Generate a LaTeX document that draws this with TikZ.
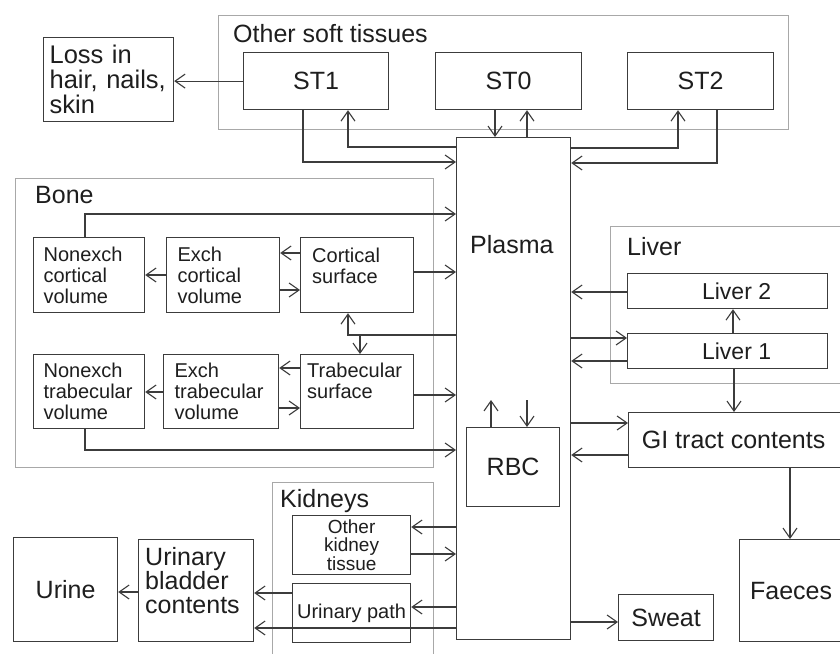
\documentclass[tikz,border=0pt]{standalone}
\usepackage{fontspec}
\setmainfont{Liberation Sans}
\usetikzlibrary{arrows.meta}
\definecolor{linec}{HTML}{3C3C3C}
\definecolor{grpc}{HTML}{A8A8A8}
\definecolor{txtc}{HTML}{1E1E1E}
\begin{document}
\begin{tikzpicture}[x=1pt,y=-1pt,
  arr/.style={draw=linec, line width=1.2pt, -{Straight Barb[length=10pt,width=14pt,line width=1.1pt]}},
  box/.style={draw=linec, line width=1.2pt, inner sep=0pt, anchor=north west, align=center, text=txtc},
  grp/.style={draw=grpc, line width=1.2pt, inner sep=0pt, anchor=north west},
  lbl/.style={inner sep=0pt, text=txtc},
  big/.style={font=\fontsize{25}{25}\selectfont},
  mid/.style={font=\fontsize{23}{23}\selectfont},
  small/.style={font=\fontsize{20}{21}\selectfont},
]
\useasboundingbox (0,0) rectangle (840,653);
\clip (0,0) rectangle (840,653);
\fill[white] (0,0) rectangle (840,653);

% group frames
\node[grp, minimum width=570, minimum height=114] (gst) at (218,15) {};
\node[grp, minimum width=418, minimum height=289] (gbone) at (15,178) {};
\node[grp, minimum width=240, minimum height=157] (gliver) at (610,226) {};
\node[grp, minimum width=161, minimum height=180] (gkid) at (272,482) {};
\node[lbl, big, anchor=base west] (tst) at (233,42) {Other soft tissues};
\node[lbl, big, anchor=base west] (tbone) at (35,203) {Bone};
\node[lbl, big, anchor=base west] (tliver) at (627,255) {Liver};
\node[lbl, big, anchor=base west] (tkid) at (280,507) {Kidneys};

% boxes
\node[box, font=\fontsize{25.5}{25}\selectfont, minimum width=130, minimum height=84, text width=118, align=left] (loss) at (43,37) {Loss in\\hair, nails,\\skin};
\node[box, big, minimum width=145, minimum height=57] (st1) at (243,52) {ST1};
\node[box, big, minimum width=146, minimum height=57] (st0) at (435,52) {ST0};
\node[box, big, minimum width=146, minimum height=57] (st2) at (627,52) {ST2};
\node[box, minimum width=114, minimum height=502] (plasma) at (456,137) {};
\node[lbl, big, anchor=base west] (tplasma) at (470,253) {Plasma};

\node[box, small, minimum width=111, minimum height=75, text width=91, align=left] (ncv) at (33,237) {Nonexch\\cortical\\volume};
\node[box, small, minimum width=113, minimum height=75, text width=91, align=left] (ecv) at (166,237) {Exch\\cortical\\volume};
\node[box, minimum width=113, minimum height=75] (cs) at (300,237) {};
\node[lbl, small, anchor=north west, align=left] (tcs) at (312,248) {Cortical\\surface};
\node[box, small, minimum width=111, minimum height=74, text width=91, align=left] (ntv) at (33,354) {Nonexch\\trabecular\\volume};
\node[box, small, minimum width=115, minimum height=74, text width=93, align=left] (etv) at (163,354) {Exch\\trabecular\\volume};
\node[box, minimum width=113, minimum height=74] (ts) at (300,354) {};
\node[lbl, small, anchor=north west, align=left] (tts) at (307,363) {Trabecular\\surface};

\node[box, mid, minimum width=200, minimum height=35] (liv2) at (627,273) {\hspace*{18pt}Liver 2};
\node[box, mid, minimum width=200, minimum height=35] (liv1) at (627,333) {\hspace*{18pt}Liver 1};
\node[box, big, minimum width=222, minimum height=55] (gi) at (628,412) {GI tract contents\hspace*{12pt}};
\node[box, big, minimum width=93, minimum height=79] (rbc) at (466,427) {RBC};
\node[box, big, minimum width=111, minimum height=102] (faeces) at (739,539) {Faeces\hspace*{8pt}};
\node[box, big, minimum width=95, minimum height=46] (sweat) at (618,594) {Sweat};
\node[box, font=\fontsize{19}{18.5}\selectfont, minimum width=118, minimum height=59] (okt) at (292,515) {Other\\kidney\\tissue};
\node[box, small, minimum width=118, minimum height=59] (up) at (292,583) {Urinary path};
\node[box, minimum width=115, minimum height=102] (ubc) at (138,539) {};
\node[lbl, font=\fontsize{25}{24}\selectfont, anchor=north west, align=left] (tubc) at (145,547) {Urinary\\bladder\\contents};
\node[box, big, minimum width=104, minimum height=104] (urine) at (13,537) {Urine};

% connectors
\draw[arr] (st1.west) -- (loss.east |- st1.west);
\draw[arr] (st1.south -| 303,0) |- (plasma.west |- 0,162);
\draw[arr] (plasma.west |- 0,147) -| (st1.south -| 348,0);
\draw[arr] (st0.south -| 495,0) -- (plasma.north -| 495,0);
\draw[arr] (plasma.north -| 527,0) -- (st0.south -| 527,0);
\draw[arr] (plasma.east |- 0,148) -| (st2.south -| 678,0);
\draw[arr] (st2.south -| 717,0) |- (plasma.east |- 0,163);
\draw[arr] (ncv.north -| 85,0) |- (plasma.west |- 0,214);
\draw[arr] (ecv.west |- 0,275) -- (ncv.east |- 0,275);
\draw[arr] (cs.west |- 0,253) -- (ecv.east |- 0,253);
\draw[arr] (ecv.east |- 0,290) -- (cs.west |- 0,290);
\draw[arr] (cs.east |- 0,272) -- (plasma.west |- 0,272);
\draw[arr] (plasma.west |- 0,335) -| (cs.south -| 348,0);
\draw[arr] (plasma.west |- 0,335) -| (ts.north -| 360,0);
\draw[arr] (ts.west |- 0,368) -- (etv.east |- 0,368);
\draw[arr] (etv.east |- 0,408) -- (ts.west |- 0,408);
\draw[arr] (etv.west |- 0,392) -- (ntv.east |- 0,392);
\draw[arr] (ts.east |- 0,395) -- (plasma.west |- 0,395);
\draw[arr] (ntv.south -| 85,0) |- (plasma.west |- 0,450);
\draw[arr] (liv2.west |- 0,292) -- (plasma.east |- 0,292);
\draw[arr] (plasma.east |- 0,338) -- (liv1.west |- 0,338);
\draw[arr] (liv1.west |- 0,361) -- (plasma.east |- 0,361);
\draw[arr] (liv1.north -| 733,0) -- (liv2.south -| 733,0);
\draw[arr] (liv1.south -| 734,0) -- (gi.north -| 734,0);
\draw[arr] (plasma.east |- 0,423) -- (gi.west |- 0,423);
\draw[arr] (gi.west |- 0,455) -- (plasma.east |- 0,455);
\coordinate (rbcup) at (491,400);
\coordinate (rbcdn) at (527,400);
\draw[arr] (rbc.north -| rbcup) -- (rbcup);
\draw[arr] (rbcdn) -- (rbc.north -| rbcdn);
\draw[arr] (gi.south -| 790,0) -- (faeces.north -| 790,0);
\draw[arr] (plasma.east |- 0,622) -- (sweat.west |- 0,622);
\draw[arr] (plasma.west |- 0,527) -- (okt.east |- 0,527);
\draw[arr] (okt.east |- 0,554) -- (plasma.west |- 0,554);
\draw[arr] (plasma.west |- 0,607) -- (up.east |- 0,607);
\draw[arr] (up.west |- 0,593) -- (ubc.east |- 0,593);
\draw[arr] (plasma.west |- 0,628) -- (ubc.east |- 0,628);
\draw[arr] (ubc.west |- 0,592) -- (urine.east |- 0,592);
\end{tikzpicture}
\end{document}
